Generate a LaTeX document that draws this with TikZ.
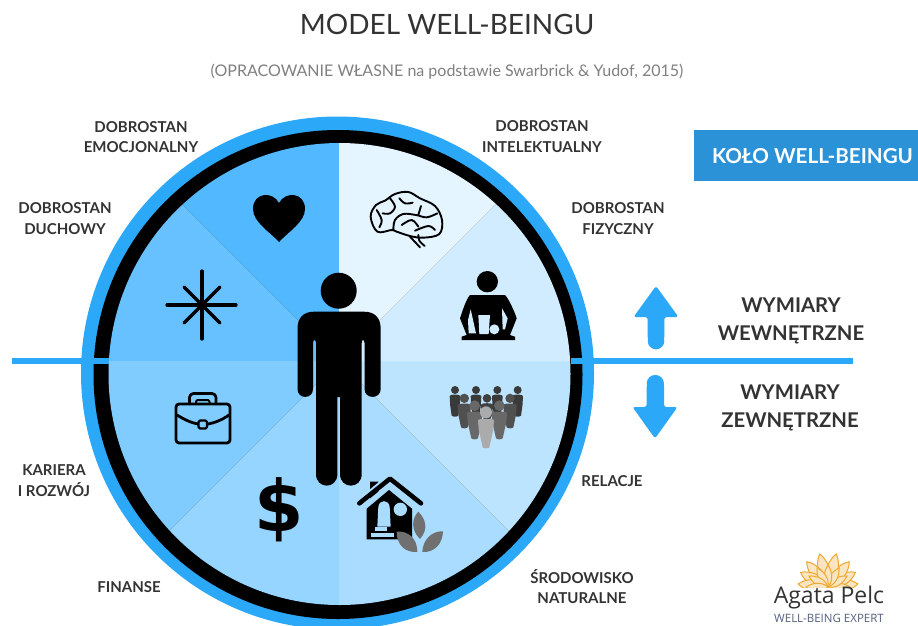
\documentclass[tikz,border=0pt]{standalone}
\usepackage{fontspec}
\setmainfont{Lato}
\newfontfamily\logofont{Open Sans}
\newfontfamily\dollarfont{DejaVu Sans}
\usetikzlibrary{arrows.meta}
\definecolor{ringblue}{HTML}{2BA8F8}
\definecolor{boxblue}{HTML}{2B92D8}
\definecolor{secA}{HTML}{52B8FF}
\definecolor{secB}{HTML}{68C1FF}
\definecolor{secC}{HTML}{80CCFF}
\definecolor{secD}{HTML}{96D5FF}
\definecolor{secE}{HTML}{A9DCFF}
\definecolor{secF}{HTML}{BDE4FF}
\definecolor{secG}{HTML}{D1ECFF}
\definecolor{secH}{HTML}{E4F5FF}
\definecolor{inkgray}{HTML}{333333}
\definecolor{subgray}{HTML}{808080}
\definecolor{logoor}{HTML}{F0A830}
\definecolor{logoblue}{HTML}{55607F}
\definecolor{leaf}{HTML}{707070}
\tikzset{
  x=1pt,y=-1pt,
  lab/.style={font=\bfseries\fontsize{15}{20.5}\selectfont,text=inkgray,align=center,inner sep=0},
  bigl/.style={font=\bfseries\fontsize{20.3}{28}\selectfont,text=inkgray,align=center,inner sep=0},
  thinic/.style={line width=1.9pt,line join=round,line cap=round,draw=black},
  bar/.style={line width=5.5pt,draw=ringblue},
  zoomed/.style={shift={(#1)},scale=1/3}
}
\begin{document}
\begin{tikzpicture}
\useasboundingbox (0,0) rectangle (918,625);
\clip (0,0) rectangle (918,625);
\fill[white] (0,0) rectangle (918,625);
% rings
\coordinate (cc) at (339.5,374);
\coordinate (o) at (339,361);
\fill[ringblue] (337.5,373) circle (256.5);
\fill[black] (338,374.5) circle (244.5);
\begin{scope}
\clip (cc) circle (231);
\fill[secA] (o) -- (339,100) -- (78,100) -- cycle;
\fill[secB] (o) -- (78,100) -- (78,361) -- cycle;
\fill[secC] (o) -- (78,361) -- (78,622) -- cycle;
\fill[secD] (o) -- (78,622) -- (339,622) -- cycle;
\fill[secE] (o) -- (339,622) -- (600,622) -- cycle;
\fill[secF] (o) -- (600,622) -- (600,361) -- cycle;
\fill[secG] (o) -- (600,361) -- (600,100) -- cycle;
\fill[secH] (o) -- (600,100) -- (339,100) -- cycle;
\end{scope}
% axis line
\coordinate (axL) at (12,361);
\coordinate (axLi) at (109,361);
\coordinate (axRi) at (571,361);
\coordinate (axR) at (853,361);
\draw[bar] (axL) -- (axLi);
\draw[bar] (axRi) -- (axR);
% person
\fill[black] (338.7,290.7) circle (18);
\fill[black] (314,311.7) .. controls (303,311.7) and (297.5,318) .. (297.5,329)
  -- (297.5,389) .. controls (297.5,399.5) and (313,399.5) .. (313,389)
  -- (313,343) .. controls (313,339) and (316,339) .. (316,343)
  -- (316,474) .. controls (316,489.5) and (337.4,489.5) .. (337.4,474)
  -- (337.4,397) -- (340,397) -- (340,474)
  .. controls (340,489.5) and (361.7,489.5) .. (361.7,474)
  -- (361.7,343) .. controls (361.7,339) and (364.5,339) .. (364.5,343)
  -- (364.5,389) .. controls (364.5,399.5) and (380.7,399.5) .. (380.7,389)
  -- (380.7,329) .. controls (380.7,318) and (375,311.7) .. (364,311.7) -- cycle;
% heart
\fill[black] (279,242) .. controls (270,232) and (253,222) .. (253,209)
  .. controls (253,192) and (273,191) .. (279,203)
  .. controls (285,191) and (305,192) .. (305,209)
  .. controls (305,222) and (288,232) .. (279,242) -- cycle;
% star
\begin{scope}[line width=3.2pt,line cap=round]
\draw (167,305) -- (236,305);
\draw (202,271) -- (202,339);
\draw (184,287) -- (220,323);
\draw (220,287) -- (184,323);
\end{scope}
% brain
\begin{scope}[zoomed={340,170},thinic]
\draw plot[smooth cycle,tension=.6] coordinates {(92,140)(108,105)(135,92)(165,72)(205,66)(240,85)(285,108)(306,150)(298,192)(250,203)(210,198)(170,185)(155,180)(112,185)};
\draw plot[smooth,tension=.6] coordinates {(160,180)(165,150)(190,132)(228,135)(260,142)(292,130)};
\draw plot[smooth,tension=.6] coordinates {(110,120)(125,150)(118,172)};
\draw plot[smooth,tension=.6] coordinates {(150,85)(165,110)(150,130)(128,130)};
\draw plot[smooth,tension=.6] coordinates {(178,85)(195,100)(218,98)};
\draw plot[smooth,tension=.6] coordinates {(243,108)(235,135)};
\draw plot[smooth,tension=.6] coordinates {(185,165)(215,150)(235,170)};
\draw plot[smooth,tension=.6] coordinates {(225,182)(265,168)(285,180)};
\draw (210,200) -- (240,232);
\draw plot[smooth,tension=.6] coordinates {(235,195)(238,212)(254,228)};
\end{scope}
% fitness
\begin{scope}[zoomed={340,170}]
\fill[black] (442,335) circle (32);
\fill[black] (390,375) -- (495,375) .. controls (505,385) and (522,420) .. (530,445)
  -- (510,495) -- (525,500) -- (525,510) -- (365,510) -- (365,500) -- (380,495) -- (360,445)
  .. controls (368,420) and (380,385) .. (390,375) -- cycle;
\fill[secG] (392,418) -- (408,490) -- (386,490) -- (384,450) -- cycle;
\fill[secG] (486,415) -- (503,445) -- (495,478) -- (488,478) -- cycle;
\fill[secG] (415,435) -- (450,435) -- (446,492) -- (418,492) -- cycle;
\fill[secG] (463,478) circle (15);
\end{scope}
% people
\begin{scope}[zoomed={340,370}]
\foreach \px/\py/\pr/\pw/\pb/\pc in {
  345/60/12/16/140/3A3A3A, 408/60/12/16/140/3A3A3A, 472/60/12/16/140/3A3A3A, 533/60/12/16/140/3A3A3A,
  441/85/13/18/150/404040, 373/85/14/20/175/505050, 510/85/14/20/175/505050,
  404/107/16/23/208/686868, 478/107/16/23/208/686868, 438/127/18/24/235/ABABAB}{
  \definecolor{pc}{HTML}{\pc}
  \fill[pc] (\px,\py) circle (\pr);
  \fill[pc] (\px-\pw,\py+\pr+6) .. controls (\px-\pw,\py+\pr) and (\px+\pw,\py+\pr) .. (\px+\pw,\py+\pr+6)
    -- (\px+0.9*\pw,\py+\pr+35) -- (\px+10,\pb-3) .. controls (\px+6,\pb+1) and (\px-6,\pb+1) .. (\px-10,\pb-3) -- (\px-0.9*\pw,\py+\pr+35) -- cycle;
}
\end{scope}
% briefcase
\begin{scope}[thinic,line width=2.8pt]
\draw[rounded corners=3pt] (176,404) rectangle (230,443);
\draw[rounded corners=4pt] (189.5,404) -- (189.5,393.5) -- (216,393.5) -- (216,404);
\draw[rounded corners=1.5pt,line width=2pt] (196,404) -- (196,400) -- (209.5,400) -- (209.5,404);
\draw (177,415) .. controls (185,420) and (192,423) .. (198,424);
\draw (208,424) .. controls (214,423) and (222,420) .. (229,415);
\draw[rounded corners=1.5pt,line width=2.2pt] (198.5,420.5) rectangle (207,428.5);
\end{scope}
% dollar
\node[inner sep=0,font=\dollarfont\bfseries\fontsize{71}{71}\selectfont] (dol) at (279,510) {\$};
% house
\begin{scope}[zoomed={340,370}]
\fill[black] (90,335) -- (115,335) -- (115,365) -- (90,385) -- cycle;
\draw[line width=5pt,line cap=round,line join=round,secE] (45,405) -- (150,318) -- (255,405);
\draw[line width=4.6pt,line cap=round,line join=round] (58,400) -- (150,326) -- (243,400);
\fill[black] (80,416) -- (147,360) -- (216,416) -- (216,508) -- (80,508) -- cycle;
\fill[secE] (112,470) -- (115,410) .. controls (118,388) and (146,388) .. (149,410) -- (152,470) -- cycle;
\fill[secE] (181,418) circle (20);
\fill[secE] (105,472) rectangle (140,482);
\fill[secE] (93,490) rectangle (163,500);
\fill[leaf] (235,425) .. controls (255,445) and (268,475) .. (240,507) .. controls (212,480) and (215,445) .. (235,425) -- cycle;
\fill[leaf] (170,485) .. controls (205,482) and (232,505) .. (232,546) .. controls (195,548) and (170,525) .. (170,485) -- cycle;
\fill[leaf] (309,484) .. controls (275,482) and (248,510) .. (247,546) .. controls (285,548) and (308,520) .. (309,484) -- cycle;
\end{scope}
% title
\node[inner sep=0,font=\fontsize{28}{32}\selectfont,text=inkgray] (ttl) at (447,24) {MODEL WELL-BEINGU};
\node[inner sep=0,font=\fontsize{16}{18}\selectfont,text=subgray] (sub) at (447,72) {(OPRACOWANIE WŁASNE na podstawie Swarbrick \& Yudof, 2015)};
% labels
\node[lab] (l1) at (141,137) {DOBROSTAN\\EMOCJONALNY};
\node[lab] (l2) at (65,218.5) {DOBROSTAN\\DUCHOWY};
\node[lab] (l3) at (542,136.5) {DOBROSTAN\\INTELEKTUALNY};
\node[lab] (l4) at (618,218.5) {DOBROSTAN\\FIZYCZNY};
\node[lab] (l5) at (54,480.5) {KARIERA\\I ROZWÓJ};
\node[lab] (l6) at (129,587) {FINANSE};
\node[lab] (l7) at (612,481) {RELACJE};
\node[lab] (l8) at (582,586.5) {ŚRODOWISKO\\NATURALNE};
% box
\node[fill=boxblue,minimum width=226,minimum height=51,inner sep=0,anchor=north west] (kb) at (694,130) {};
\node[inner sep=0,font=\bfseries\fontsize{20.6}{22}\selectfont,text=white] (kt) at (812.5,156) {KOŁO WELL-BEINGU};
% arrows
\fill[ringblue,rounded corners=2.5pt] (656,286) -- (678.5,317) -- (664.3,317) -- (664.3,340) -- (647.7,340) -- (647.7,317) -- (633.5,317) -- cycle;
\fill[ringblue] (647.7,335) rectangle (664.3,341);
\fill[ringblue] (656,341) circle (8.3);
\fill[ringblue,rounded corners=2.5pt] (655,438.5) -- (677.5,407) -- (664,407) -- (664,384) -- (646.7,384) -- (646.7,407) -- (632.5,407) -- cycle;
\fill[ringblue] (646.7,383) rectangle (664,389);
\fill[ringblue] (655.3,383.5) circle (8.6);
\node[bigl] (w1) at (791,320.5) {WYMIARY\\WEWNĘTRZNE};
\node[bigl] (w2) at (790,407.5) {WYMIARY\\ZEWNĘTRZNE};
% logo
\begin{scope}
\clip (790,545) rectangle (870,587);
\begin{scope}[line width=1pt,draw=logoor,fill=logoor!30]
\foreach \a/\r in {-84/30,-62/31,-40/33,-14/34,14/34,40/33,62/31,84/30}{
  \begin{scope}[shift={(828,587)},rotate=\a]
  \filldraw (0,0) .. controls (-9,-11) and (-6,-\r+7) .. (0,-\r) .. controls (6,-\r+7) and (9,-11) .. (0,0) -- cycle;
  \end{scope}
}
\foreach \a in {-90,-60,-30,0,30,60,90}{
  \begin{scope}[shift={(828,587)},rotate=\a]
  \filldraw (0,0) .. controls (-6,-7) and (-4,-16) .. (0,-22) .. controls (4,-16) and (6,-7) .. (0,0) -- cycle;
  \end{scope}
}
\end{scope}
\end{scope}
\node[inner sep=0,font=\logofont\fontsize{23}{26}\selectfont,text=inkgray] (lg) at (829,598) {Agata Pelc};
\node[inner sep=0,font=\logofont\fontsize{11.5}{13}\selectfont,text=logoblue] (lg2) at (829,618) {WELL-BEING EXPERT};
\end{tikzpicture}
\end{document}
